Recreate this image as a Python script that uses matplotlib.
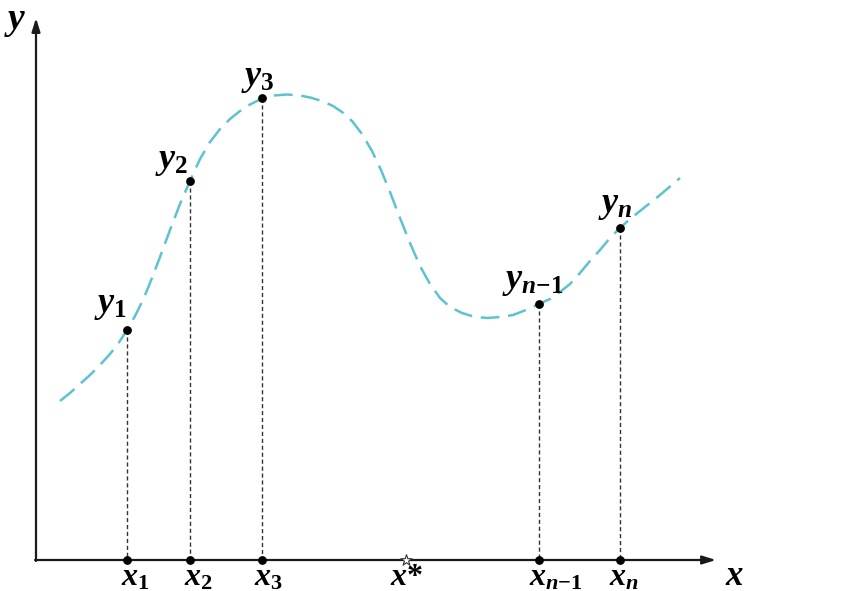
import matplotlib
matplotlib.use("Agg")
import matplotlib.pyplot as plt

# --- fonte tipo Times (negrito/itálico) para o texto matemático ---
plt.rcParams['mathtext.fontset'] = 'custom'
plt.rcParams['mathtext.rm'] = 'Liberation Serif:bold'
plt.rcParams['mathtext.it'] = 'Liberation Serif:italic:bold'
plt.rcParams['mathtext.bf'] = 'Liberation Serif:bold'

# curva (coordenadas em pixels da imagem, y cresce para baixo)
curve_x = [60, 70, 80, 90, 100, 110, 118, 127, 135, 143, 150, 160, 170, 180, 190, 200,
           210, 220, 230, 240, 250, 262, 274, 287, 300, 310, 322, 333, 342, 352, 362,
           372, 381, 390, 400, 410, 420, 430, 440, 450, 462, 475, 488, 500, 513, 526,
           539, 550, 560, 570, 580, 590, 600, 610, 620, 630, 640, 660, 680]
curve_y = [401, 393, 384, 375, 365, 354, 344, 330, 316, 300, 283, 257, 230, 204, 181, 159,
           142, 129, 119, 111, 104.5, 98.5, 95.5, 94.5, 95.5, 97.5, 101, 106, 112, 121, 134,
           151, 170, 192, 218, 243, 266, 284, 298, 307, 313, 317, 318, 317, 315, 310,
           304, 299, 292, 284, 273, 261, 250, 238, 228, 219, 211, 195, 178]

# pontos amostrados
sample_x = [127, 190, 262, 539, 620]
sample_y = [330, 181, 98, 304, 228]
y_labels = [r'$y_{\mathrm{1}}$', r'$y_{\mathrm{2}}$', r'$y_{\mathrm{3}}$',
            r'$y_{n\mathrm{-1}}$', r'$y_{n}$']
x_labels = [r'$x_{\mathrm{1}}$', r'$x_{\mathrm{2}}$', r'$x_{\mathrm{3}}$',
            r'$x_{n\mathrm{-1}}$', r'$x_{n}$']
y_label_pos = [(110, 305), (172, 161), (258, 78), (533, 281), (615, 205)]
x_label_pos = [135, 198, 268, 556, 624]
x_star = 406

origin = (36, 560)
x_end = 716
y_end = 18

fig = plt.figure(figsize=(8.46, 5.91), dpi=100)
ax = fig.add_axes([0, 0, 1, 1])
ax.set_xlim(0, 846)
ax.set_ylim(591, 0)
ax.axis('off')

# eixos com setas
ax.annotate('', xy=(x_end, origin[1]), xytext=(origin[0] - 1, origin[1]),
            arrowprops=dict(arrowstyle='-|>,head_length=0.8,head_width=0.25',
                            color='#1a1a1a', lw=1.6, shrinkA=0, shrinkB=0))
ax.annotate('', xy=(origin[0], y_end), xytext=(origin[0], origin[1] + 1),
            arrowprops=dict(arrowstyle='-|>,head_length=0.8,head_width=0.25',
                            color='#1a1a1a', lw=1.6, shrinkA=0, shrinkB=0))

# curva tracejada
ax.plot(curve_x, curve_y, color='#5cc3cf', lw=1.8, dashes=(7.5, 3.5),
        solid_capstyle='butt', solid_joinstyle='round', zorder=2)

# linhas verticais pontilhadas
for xs, ys in zip(sample_x, sample_y):
    ax.plot([xs, xs], [ys, origin[1]], color='#333333', lw=1.0,
            dashes=(3, 2), zorder=1)

ax.scatter(sample_x, sample_y, s=28, color='black', zorder=3)
ax.scatter(sample_x, [origin[1]] * len(sample_x), s=28, color='black', zorder=3)
ax.scatter([x_star], [origin[1]], s=70, marker='*', facecolor='white',
           edgecolor='#333333', linewidths=0.8, zorder=3)

fs = 26
for (tx, ty), lab in zip(y_label_pos, y_labels):
    ax.text(tx, ty, lab, fontsize=fs, ha='center', va='center')

for tx, lab in zip(x_label_pos, x_labels):
    ax.text(tx, 585, lab, fontsize=23, ha='center', va='baseline')
ax.text(x_star + 1, 585, r'$x\mathrm{*}$', fontsize=23, ha='center', va='baseline')

ax.text(734, 575, r'$x$', fontsize=25, ha='center', va='center')
ax.text(15, 21, r'$y$', fontsize=fs + 1, ha='center', va='center')

fig.savefig('out.png', dpi=100)
